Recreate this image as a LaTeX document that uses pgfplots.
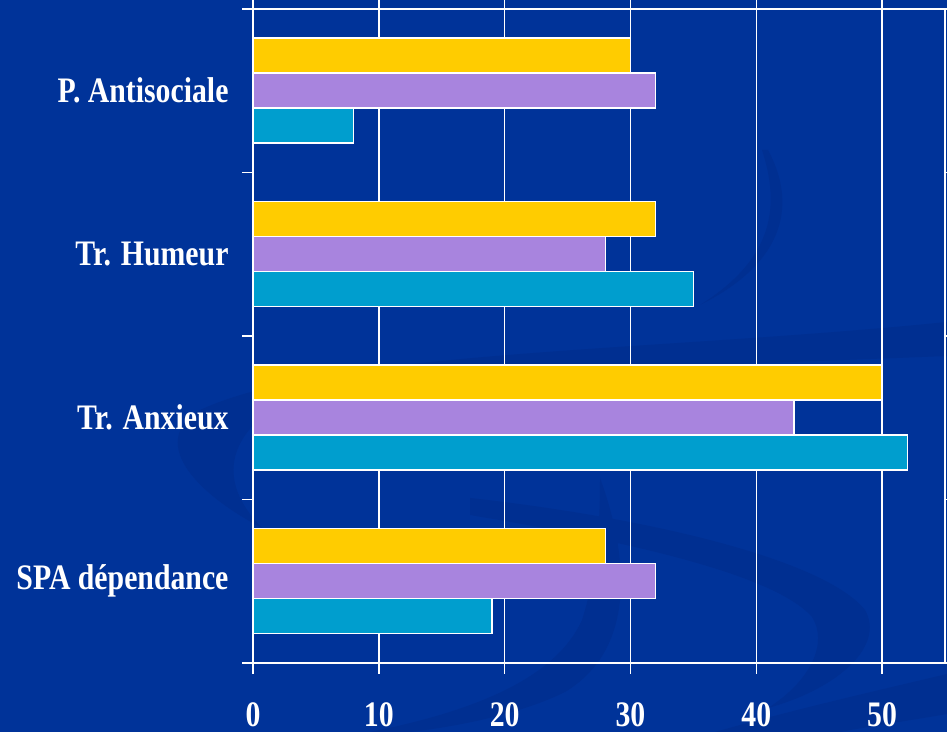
\documentclass[border=0pt]{standalone}
\usepackage{fontspec}
\setmainfont{Liberation Serif}[FakeStretch=0.83]
\usepackage{pgfplots}
\pgfplotsset{compat=1.18}
\definecolor{bg}{RGB}{0,51,153}
\definecolor{bgdark}{RGB}{0,47,145}
\definecolor{cyel}{RGB}{255,204,0}
\definecolor{cpur}{RGB}{168,132,222}
\definecolor{ccya}{RGB}{0,158,206}
\begin{document}
\begin{tikzpicture}[x=1bp,y=1bp]
\fill[bg] (0,0) rectangle (947,732);
\begin{scope}[shift={(0,732)}, yscale=-1]
  % long upper swoosh with left crescent
  \fill[bgdark] (947,322) .. controls (650,352) and (330,350) .. (200,410)
     .. controls (150,440) and (190,490) .. (262,528)
     .. controls (215,480) and (225,430) .. (300,392)
     .. controls (450,372) and (700,366) .. (947,356) -- cycle;
  % middle-bottom crescent
  \fill[bgdark] (600,478) .. controls (630,560) and (635,650) .. (565,692)
     .. controls (520,714) and (460,726) .. (410,732) -- (370,732)
     .. controls (470,712) and (555,680) .. (582,620)
     .. controls (598,570) and (600,520) .. (600,478) -- cycle;
  % right swoosh
  \fill[bgdark] (470,498) .. controls (650,518) and (825,560) .. (865,610)
     .. controls (885,645) and (840,688) .. (768,708)
     .. controls (812,680) and (828,642) .. (812,617)
     .. controls (778,578) and (650,545) .. (470,515) -- cycle;
  % bottom-right band
  \fill[bgdark] (715,732) .. controls (800,708) and (880,690) .. (947,674)
     -- (947,714) .. controls (900,722) and (860,728) .. (840,732) -- cycle;
  % faint upper arc
  \fill[bgdark] (768,150) .. controls (795,200) and (790,260) .. (700,305)
     .. controls (775,258) and (780,205) .. (762,150) -- cycle;
\end{scope}
\begin{axis}[
  at={(253bp,69bp)}, anchor=south west, scale only axis,
  width=692bp, height=654bp,
  xmin=0, xmax=55, ymin=-0.5, ymax=3.5,
  xbar, bar width=35bp,
  axis line style={white, line width=1.5bp},
  tick align=outside,
  major tick length=11bp,
  tick style={white, line width=1.5bp},
  xtick={0,10,...,50},
  xmajorgrids,
  major grid style={white, line width=1.5bp},
  ytick={0,1,2,3},
  yticklabels={SPA dépendance, Tr. Anxieux, Tr. Humeur, P. Antisociale},
  ytick style={draw=none},
  extra y ticks={-0.5,0.5,1.5,2.5,3.5},
  extra y tick labels={},
  extra y tick style={ytick style={draw=white, line width=1.5bp}},
  /pgf/number format/assume math mode=true,
  tick label style={white, font=\fontsize{36}{36}\selectfont\bfseries},
  yticklabel style={font=\fontsize{36}{36}\selectfont\bfseries},
  xticklabel style={yshift=-25bp},
  yticklabel style={xshift=-10bp},
  clip=false,
]
\addplot[fill=cyel, draw=white, line width=1.5bp, bar shift=35bp] coordinates {(28,0) (50,1) (32,2) (30,3)};
\addplot[fill=cpur, draw=white, line width=1.5bp, bar shift=0bp] coordinates {(32,0) (43,1) (28,2) (32,3)};
\addplot[fill=ccya, draw=white, line width=1.5bp, bar shift=-35bp] coordinates {(19,0) (52,1) (35,2) (8,3)};
\end{axis}
\pgfresetboundingbox
\path[use as bounding box] (0,0) rectangle (947,732);
\end{tikzpicture}
\end{document}
